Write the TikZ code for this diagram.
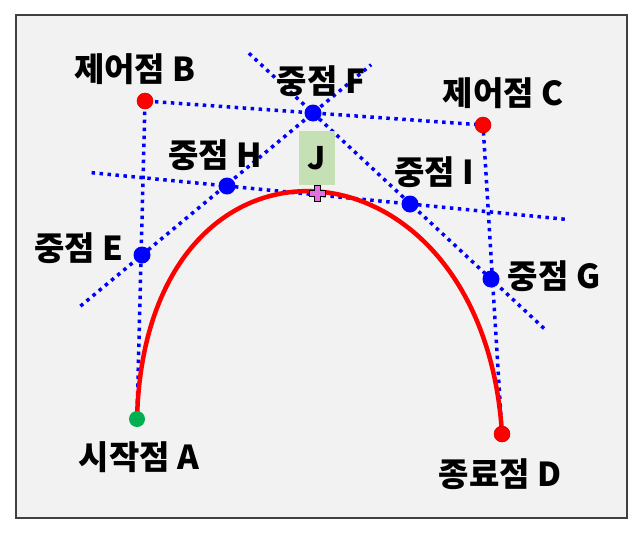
\documentclass[tikz,border=0pt]{standalone}
\usepackage{fontspec}
\newfontfamily\krfont{Noto Sans CJK KR}
\usepackage{tikz}
\usetikzlibrary{positioning, calc}

\definecolor{panelgray}{HTML}{F2F2F2}
\definecolor{startgreen}{HTML}{00B050}
\definecolor{boxgreen}{HTML}{C5E0B4}
\definecolor{plusviolet}{HTML}{E36FE0}

\tikzset{
    lbl/.style={font=\krfont\bfseries\fontsize{33}{36}\selectfont, inner sep=0pt},
    guide/.style={blue, line width=3.5pt, dash pattern=on 3.5pt off 4.5pt},
    curvepath/.style={red, line width=4.5pt},
    dot/.style={circle, inner sep=0pt, minimum size=16pt},
}

\begin{document}
\begin{tikzpicture}[x=1pt, y=-1pt]
    \useasboundingbox (0,0) rectangle (642,533);
    \draw[fill=panelgray, draw=black!75, line width=1.5pt] (16,15) rectangle (627,518);

    % points
    \coordinate (A) at (137,419);
    \coordinate (B) at (145,101);
    \coordinate (C) at (483,125);
    \coordinate (D) at (502,434);
    \coordinate (E) at (142,255);
    \coordinate (F) at (313,113);
    \coordinate (G) at (491,279);
    \coordinate (H) at (227,186);
    \coordinate (I) at (410,204);
    \coordinate (J) at (317,193);

    % free ends of the long guides
    \coordinate (ef_start) at ($(E)!-0.36!(F)$);
    \coordinate (ef_end) at ($(E)!1.34!(F)$);
    \coordinate (fg_start) at ($(F)!-0.36!(G)$);
    \coordinate (fg_end) at ($(F)!1.30!(G)$);
    \coordinate (hi_start) at ($(H)!-0.74!(I)$);
    \coordinate (hi_end) at ($(H)!1.86!(I)$);

    \draw[guide] (A) -- (B) -- (C) -- (D);
    \draw[guide] (ef_start) -- (ef_end);
    \draw[guide] (fg_start) -- (fg_end);
    \draw[guide] (hi_start) -- (hi_end);

    \draw[curvepath] (A) .. controls (B) and (C) .. (D);

    \node[fill=boxgreen, minimum width=36pt, minimum height=54pt, inner sep=0pt, font=\krfont\bfseries\fontsize{31}{34}\selectfont] (boxJ) at (317,158) {J};

    \node[dot, fill=startgreen] (ptA) at (A) {};
    \node[dot, fill=red, draw=red!80!black, line width=0.5pt] (ptB) at (B) {};
    \node[dot, fill=red, draw=red!80!black, line width=0.5pt] (ptC) at (C) {};
    \node[dot, fill=red, draw=red!80!black, line width=0.5pt] (ptD) at (D) {};
    \node[dot, fill=blue, minimum size=17pt] (ptE) at (E) {};
    \node[dot, fill=blue, minimum size=17pt] (ptF) at (F) {};
    \node[dot, fill=blue, minimum size=17pt] (ptG) at (G) {};
    \node[dot, fill=blue, minimum size=17pt] (ptH) at (H) {};
    \node[dot, fill=blue, minimum size=17pt] (ptI) at (I) {};

    \draw[fill=plusviolet, draw=black, line width=1pt] (J) ++(-3,-8) -- ++(6,0) -- ++(0,5) -- ++(5,0) -- ++(0,6) -- ++(-5,0) -- ++(0,5) -- ++(-6,0) -- ++(0,-5) -- ++(-5,0) -- ++(0,-6) -- ++(5,0) -- cycle;

    % labels
    \node[lbl, above=8pt of ptB, xshift=-10pt] (labB) {제어점 B};
    \node[lbl, above=7pt of ptF, xshift=8pt] (labF) {중점 F};
    \node[lbl, above=8pt of ptC, xshift=20pt] (labC) {제어점 C};
    \node[lbl, above=6pt of ptH, xshift=-12pt] (labH) {중점 H};
    \node[lbl, above=7pt of ptI, xshift=24pt] (labI) {중점 I};
    \node[lbl, left=10pt of ptE, yshift=7pt] (labE) {중점 E};
    \node[lbl, right=8pt of ptG, yshift=3pt] (labG) {중점 G};
    \node[lbl, below=14pt of ptA, xshift=2pt] (labA) {시작점 A};
    \node[lbl, below=16pt of ptD, xshift=-2pt] (labD) {종료점 D};
\end{tikzpicture}
\end{document}
